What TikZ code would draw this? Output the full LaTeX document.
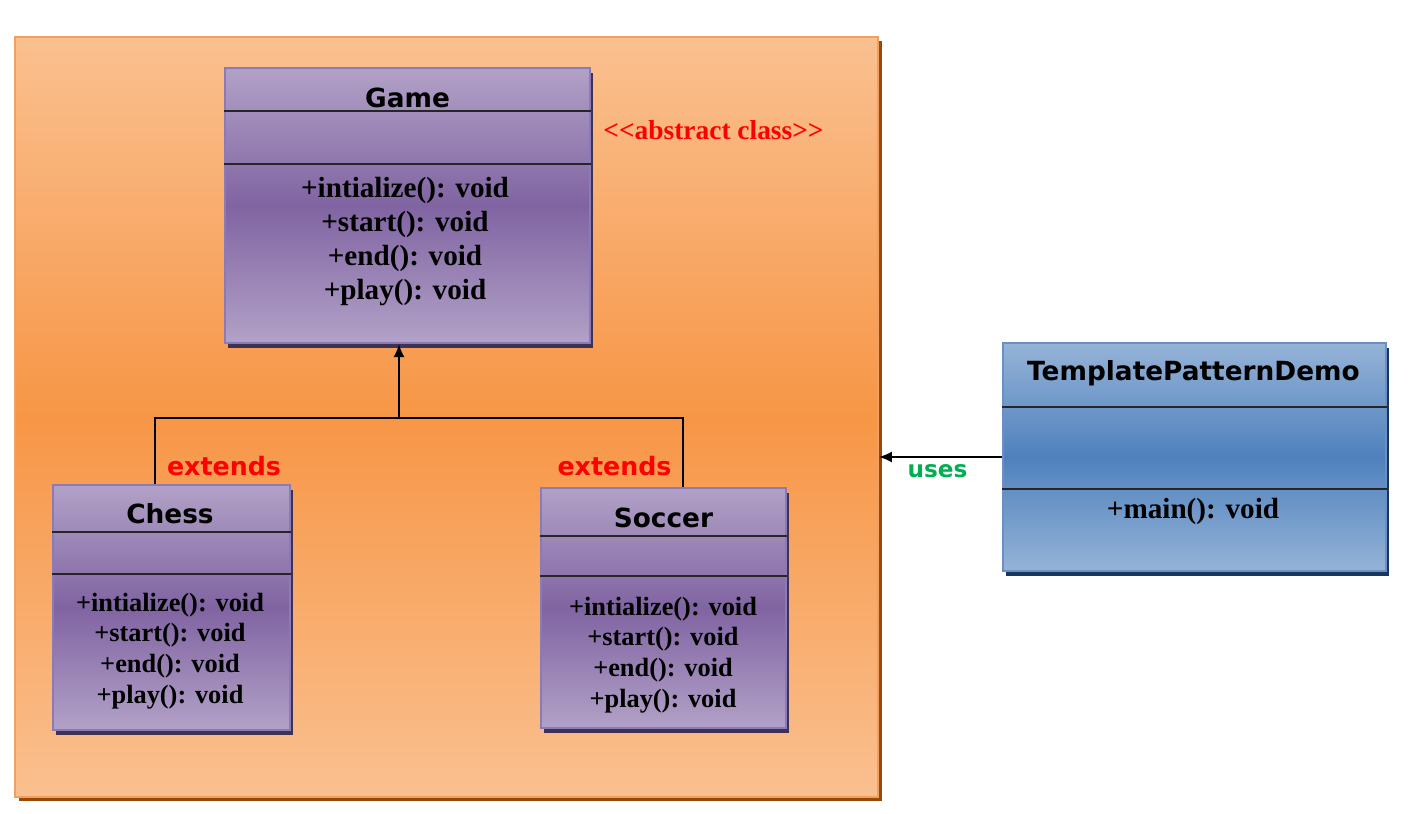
\documentclass[tikz,border=0pt]{standalone}
\usepackage{xcolor}
\usepackage{fontspec}
\setmainfont{Liberation Serif}
\newfontfamily\namefont{DejaVu Sans}
\usepackage{tikz}
\usetikzlibrary{arrows.meta, positioning, calc, shadows}

\definecolor{pkglight}{HTML}{FAC090}
\definecolor{pkgdark}{HTML}{F79646}
\definecolor{pkgedge}{HTML}{F0A060}
\definecolor{pkgshadow}{HTML}{984807}
\definecolor{clslight}{HTML}{B2A1C7}
\definecolor{clsdark}{HTML}{8064A2}
\definecolor{clsedge}{HTML}{8A7AB8}
\definecolor{clsshadow}{HTML}{3F3151}
\definecolor{demolight}{HTML}{95B3D7}
\definecolor{demodark}{HTML}{4F81BD}
\definecolor{demoedge}{HTML}{6A8FC4}
\definecolor{demoshadow}{HTML}{17375E}
\definecolor{extred}{HTML}{FF0000}
\definecolor{usesgreen}{HTML}{00B050}

\begin{document}
\begin{tikzpicture}[
    pkg/.style={draw=pkgedge, line width=0.5pt, top color=pkglight, bottom color=pkglight, middle color=pkgdark,
        minimum width=8.63cm, minimum height=7.60cm,
        drop shadow={shadow xshift=0.04cm, shadow yshift=-0.04cm, fill=pkgshadow, opacity=1}},
    cls/.style={draw=clsedge, line width=0.6pt, inner sep=0pt, top color=clslight, bottom color=clslight, middle color=clsdark,
        drop shadow={shadow xshift=0.03cm, shadow yshift=-0.05cm, fill=clsshadow, opacity=1}},
    democls/.style={draw=demoedge, line width=0.6pt, inner sep=0pt, top color=demolight, bottom color=demolight, middle color=demodark,
        drop shadow={shadow xshift=0.03cm, shadow yshift=-0.05cm, fill=demoshadow, opacity=1}},
    divider/.style={draw=black!85, line width=0.8pt},
    clsname/.style={font=\namefont\bfseries\fontsize{7.5}{9}\selectfont},
    ops/.style={font=\bfseries\fontsize{8.3}{9.7}\selectfont, align=center},
    smallops/.style={font=\bfseries\fontsize{7.5}{8.75}\selectfont, align=center},
    extlabel/.style={font=\namefont\bfseries\fontsize{7.2}{8}\selectfont, text=extred},
    useslabel/.style={font=\namefont\bfseries\fontsize{6.6}{8}\selectfont, text=usesgreen},
    stereo/.style={font=\bfseries\fontsize{7.8}{9}\selectfont, text=extred},
    link/.style={line width=0.5pt},
    inherit/.style={-{Latex[length=1.3mm,width=1.1mm]}, line width=0.5pt}
]
    \fill[white] (0,0) rectangle (14.08,-8.14);
    \node[pkg] (pkg) at (4.465,-4.17) {};

    % class boxes
    \node[cls, minimum width=3.65cm, minimum height=2.75cm] (game) at (4.075,-2.055) {};
    \node[cls, minimum width=2.37cm, minimum height=2.45cm] (chess) at (1.715,-6.075) {};
    \node[cls, minimum width=2.45cm, minimum height=2.40cm] (soccer) at (6.635,-6.08) {};
    \node[democls, minimum width=3.83cm, minimum height=2.28cm] (demo) at (11.945,-4.57) {};

    \foreach \c/\d in {game/0.44, game/0.97, chess/0.48, chess/0.90, soccer/0.49, soccer/0.89, demo/0.65, demo/1.47}
        \draw[divider] ([yshift=-\d cm]\c.north west) -- ([yshift=-\d cm]\c.north east);

    % texts
    \node[clsname] (gamename) at (4.075,-0.98) {Game};
    \node[ops] (gameops) at (4.05,-2.415) {+intialize(): void\\+start(): void\\+end(): void\\+play(): void};
    \node[clsname] (chessname) at (1.70,-5.14) {Chess};
    \node[smallops] (chessops) at (1.70,-6.51) {+intialize(): void\\+start(): void\\+end(): void\\+play(): void};
    \node[clsname] (soccername) at (6.635,-5.18) {Soccer};
    \node[smallops] (soccerops) at (6.63,-6.55) {+intialize(): void\\+start(): void\\+end(): void\\+play(): void};
    \node[clsname] (demoname) at (11.935,-3.73) {TemplatePatternDemo};
    \node[ops] (demoops) at (11.93,-5.11) {+main(): void};

    \node[stereo] (abstract) at (7.135,-1.30) {<\kern0pt<abstract class>\kern0pt>};
    \node[extlabel] (chessext) at (2.24,-4.66) {extends};
    \node[extlabel] (soccerext) at (6.145,-4.66) {extends};
    \node[useslabel] (uses) at (9.375,-4.71) {uses};

    % connectors
    \coordinate (fork) at (3.99,-4.18);
    \draw[inherit] (fork) -- (fork |- game.south);
    \draw[link] ([xshift=-0.165cm]chess.north) |- (fork) -| ([xshift=0.195cm]soccer.north);
    \draw[inherit] (demo.west) -- (demo.west -| pkg.east);
\end{tikzpicture}
\end{document}
